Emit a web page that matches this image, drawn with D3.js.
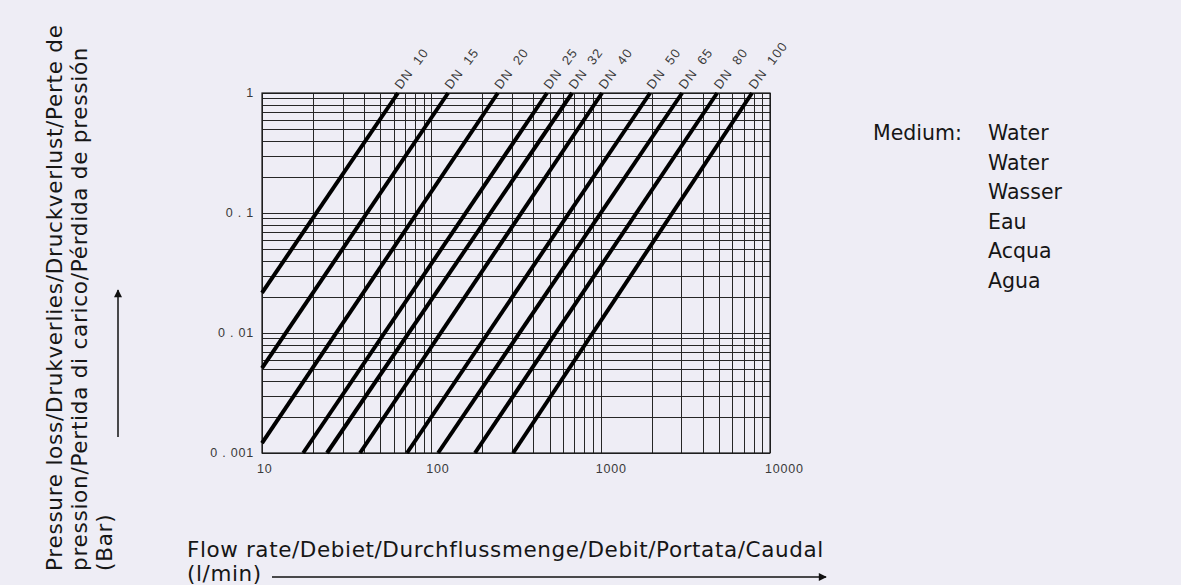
<!DOCTYPE html>
<html>
<head>
<meta charset="utf-8">
<script src="https://cdn.jsdelivr.net/npm/d3@7"></script>
<style>
  html, body { margin: 0; padding: 0; background: #eeedf5; }
  svg { display: block; }
  .title { font-family: "DejaVu Sans", "Noto Sans", sans-serif; fill: #161616; }
  .tick-label { font-family: "Liberation Sans", "DejaVu Sans", sans-serif; fill: #3a3a3a; white-space: pre; }
</style>
</head>
<body>
<svg id="chart" width="1181" height="585"></svg>
<script>
// Flow-rate axis (l/min) and pressure-loss axis (bar), both logarithmic
const flowTicks = [10, 100, 1000, 10000];
const flowTickLabels = ["10", "100", "1000", "10000"];
const pressureTicks = [1, 0.1, 0.01, 0.001];
const pressureTickLabels = ["1", "0 . 1", "0 . 01", "0 . 001"];

// Nominal valve sizes and the two end points of each pressure-loss line
const sizes = ["10", "15", "20", "25", "32", "40", "50", "65", "80", "100"];
const flowLow = [10, 10, 10, 17.5, 24.2, 37.9, 71.8, 109.6, 181, 304];
const pressureLow = [0.0216, 0.0051, 0.00121, 0.001, 0.001, 0.001, 0.001, 0.001, 0.001, 0.001];
const flowHigh = [63.5, 125.6, 247, 482, 678, 1019, 1959, 3027, 4875, 7832];
const pressureHigh = [1, 1, 1, 1, 1, 1, 1, 1, 1, 1];

// Medium legend
const mediumLabel = "Medium:";
const mediumNames = ["Water", "Water", "Wasser", "Eau", "Acqua", "Agua"];

const yTitleLines = [
  "Pressure loss/Drukverlies/Druckverlust/Perte de",
  "pression/Pertida di carico/Pérdida de pressión",
  "(Bar)"
];
const xTitleLines = [
  "Flow rate/Debiet/Durchflussmenge/Debit/Portata/Caudal",
  "(l/min)"
];

const svg = d3.select("#chart");
const plot = { left: 262, right: 770, top: 93, bottom: 453 };

const x = d3.scaleLog().domain([10, 10000]).range([plot.left, plot.right]);
const y = d3.scaleLog().domain([0.001, 1]).range([plot.bottom, plot.top]);

svg.append("rect").attr("width", 1181).attr("height", 585).attr("fill", "#eeedf5");

// Arrow marker
svg.append("defs").append("marker")
  .attr("id", "arrow")
  .attr("viewBox", "0 0 10 10")
  .attr("refX", 9).attr("refY", 5)
  .attr("markerWidth", 12).attr("markerHeight", 8)
  .attr("markerUnits", "userSpaceOnUse")
  .attr("orient", "auto")
  .append("path").attr("d", "M0,0 L10,5 L0,10 Z").attr("fill", "#111");

const g = svg.append("g");

// Log grid: vertical lines at every 1..9 multiple, horizontal likewise
const gridX = g.append("g")
  .attr("transform", `translate(0,${plot.bottom})`)
  .call(d3.axisBottom(x).tickValues(x.ticks()).tickSize(-(plot.bottom - plot.top)).tickFormat(""));
const gridY = g.append("g")
  .attr("transform", `translate(${plot.left},0)`)
  .call(d3.axisLeft(y).tickValues(y.ticks()).tickSize(-(plot.right - plot.left)).tickFormat(""));
[gridX, gridY].forEach(a => {
  a.select(".domain").remove();
  a.selectAll(".tick line").attr("stroke", "#262626").attr("stroke-width", 1).attr("shape-rendering", "crispEdges");
});

// Frame
g.append("rect")
  .attr("x", plot.left).attr("y", plot.top)
  .attr("width", plot.right - plot.left).attr("height", plot.bottom - plot.top)
  .attr("fill", "none").attr("stroke", "#1a1a1a").attr("stroke-width", 1.2);

// Pressure-loss lines per nominal size
const lineData = sizes.map((s, i) => ({
  size: s,
  pts: [[flowLow[i], pressureLow[i]], [flowHigh[i], pressureHigh[i]]]
}));
const lineGen = d3.line().x(d => x(d[0])).y(d => y(d[1]));
g.append("g").selectAll("path").data(lineData).join("path")
  .attr("d", d => lineGen(d.pts))
  .attr("fill", "none").attr("stroke", "#000").attr("stroke-width", 4);

// DN labels at the top end of each line
g.append("g").selectAll("text").data(lineData).join("text")
  .attr("class", "tick-label")
  .attr("transform", d => `translate(${x(d.pts[1][0]) + 3},${y(d.pts[1][1]) - 3}) rotate(-53)`)
  .attr("font-size", 13)
  .attr("letter-spacing", 1.1)
  .text(d => "DN  " + d.size);

// Tick labels
g.append("g").selectAll("text").data(flowTicks).join("text")
  .attr("class", "tick-label")
  .attr("x", d => x(d) - 5).attr("y", plot.bottom + 20)
  .attr("font-size", 12.5).attr("letter-spacing", 0.8)
  .text((d, i) => flowTickLabels[i]);
g.append("g").selectAll("text").data(pressureTicks).join("text")
  .attr("class", "tick-label")
  .attr("x", plot.left - 8).attr("y", d => y(d) + 4)
  .attr("text-anchor", "end")
  .attr("font-size", 12.5).attr("letter-spacing", 0.8)
  .text((d, i) => pressureTickLabels[i]);

// Y axis title (rotated) with upward arrow
const yt = svg.append("text").attr("class", "title")
  .attr("transform", "rotate(-90)")
  .attr("font-size", 21.5).attr("letter-spacing", 0.75);
yTitleLines.forEach((t, i) => {
  yt.append("tspan").attr("x", -571).attr("y", 62 + i * 25).text(t);
});
svg.append("line")
  .attr("x1", 118).attr("y1", 437).attr("x2", 118).attr("y2", 290)
  .attr("stroke", "#111").attr("stroke-width", 1.5).attr("marker-end", "url(#arrow)");

// X axis title with rightward arrow
const xt = svg.append("text").attr("class", "title")
  .attr("font-size", 21.5).attr("letter-spacing", 0.6);
xTitleLines.forEach((t, i) => {
  xt.append("tspan").attr("x", 187).attr("y", 557 + i * 24).text(t);
});
svg.append("line")
  .attr("x1", 272).attr("y1", 577).attr("x2", 826).attr("y2", 577)
  .attr("stroke", "#111").attr("stroke-width", 1.5).attr("marker-end", "url(#arrow)");

// Medium legend
svg.append("text").attr("class", "title").attr("font-size", 20.5)
  .attr("x", 873).attr("y", 140).text(mediumLabel);
svg.append("g").selectAll("text").data(mediumNames).join("text")
  .attr("class", "title").attr("font-size", 20.5)
  .attr("x", 988).attr("y", (d, i) => 140 + i * 29.5)
  .text(d => d);
</script>
</body>
</html>
